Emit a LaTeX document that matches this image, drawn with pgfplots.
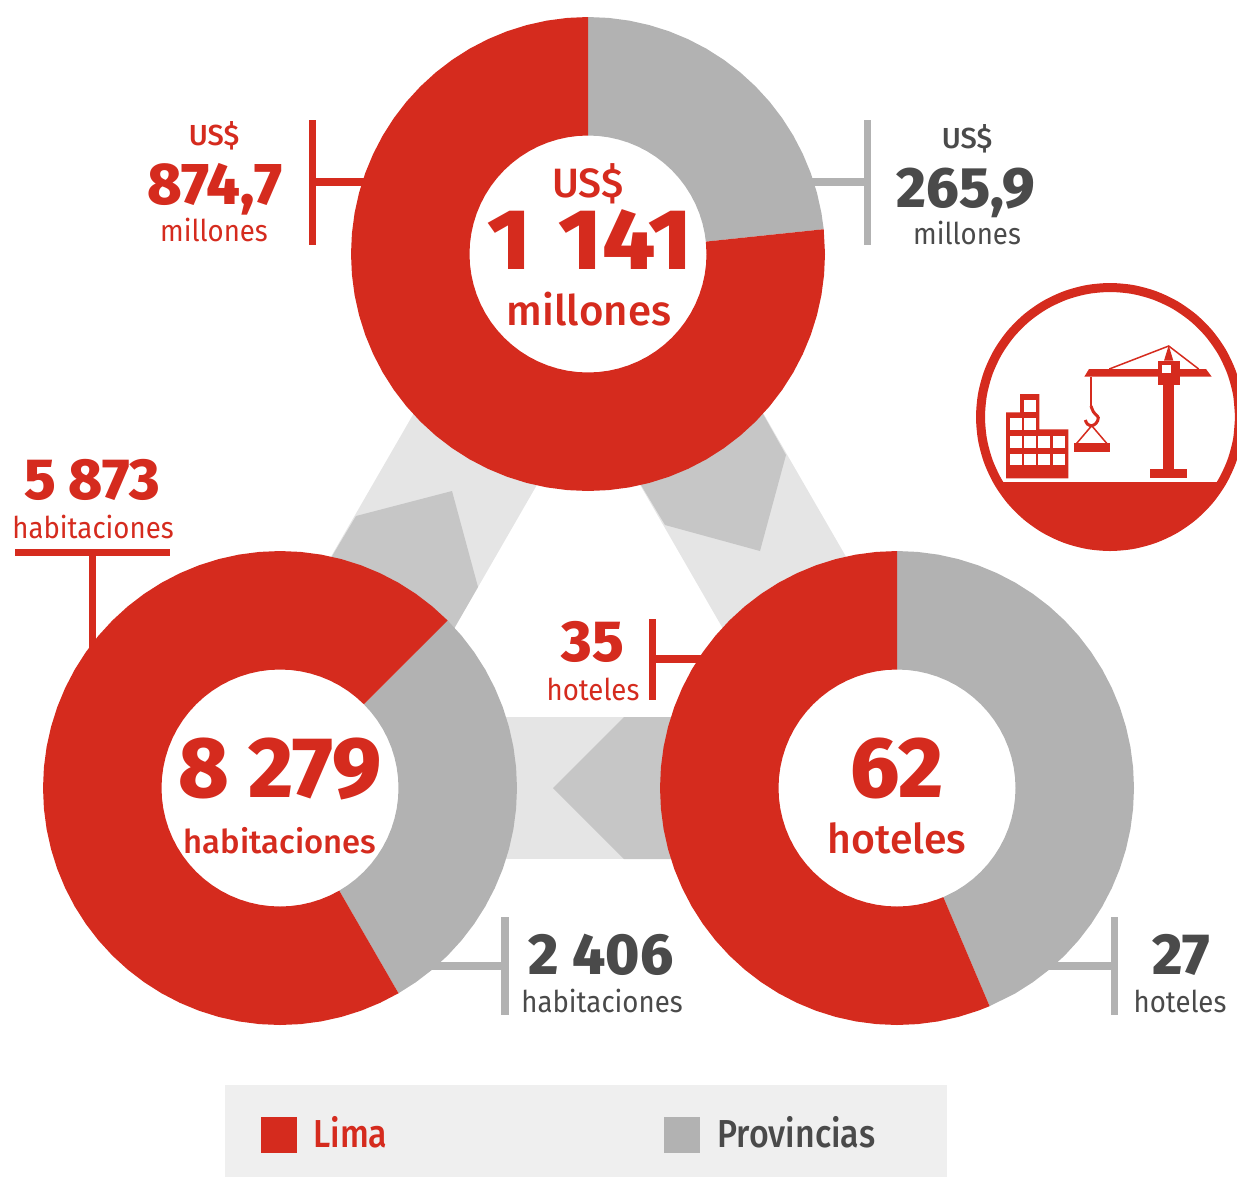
\documentclass[border=0pt]{standalone}
\usepackage{fontspec}
\setmainfont{Fira Sans}
\newfontfamily\heavy{Fira Sans ExtraBold}
\newfontfamily\heavywide[FakeStretch=1.08]{Fira Sans ExtraBold}
\newfontfamily\medium{Fira Sans Medium}
\newfontfamily\mediumnarrow[FakeStretch=0.87]{Fira Sans Medium}
\newfontfamily\reg[FakeStretch=0.92]{Fira Sans}
\usepackage{pgfplots}
\pgfplotsset{compat=1.18}
\definecolor{rojo}{HTML}{D52B1E}
\definecolor{gris}{HTML}{B2B2B2}
\definecolor{bandlight}{HTML}{E5E5E5}
\definecolor{banddark}{HTML}{C6C6C6}
\definecolor{oscuro}{HTML}{4A4A4A}
\definecolor{legendbg}{HTML}{EFEFEF}
% picture is in image pixels, 1 px = 0.5 pt
\newcommand\rect[5]{\addplot[draw=none,fill=#1] coordinates {(#2,#3)(#4,#3)(#4,#5)(#2,#5)};}
\newcommand\lbl[6]{\node[anchor=base,inner sep=0pt,text=#1,font=#2] at (axis cs:#3,#4) {#6};}
\begin{document}
\begin{tikzpicture}
\useasboundingbox (0,0) rectangle (618.5pt,589pt);
\begin{axis}[
  at={(0,0)}, anchor=south west,
  scale only axis, width=618.5pt, height=589pt,
  xmin=0, xmax=1237, ymin=0, ymax=1178, y dir=reverse,
  hide axis, clip=false, no markers,
]
% bands joining the donuts
\addplot[draw=none,fill=bandlight] coordinates {(433,380)(306,600)(436,660)(557,450)};
\addplot[draw=none,fill=banddark] coordinates {(356,516)(452,491)(478,587)(436,660)(306,600)};
\addplot[draw=none,fill=bandlight] coordinates {(744,380)(871,600)(741,660)(620,450)};
\addplot[draw=none,fill=banddark] coordinates {(744,380)(786,455)(760,551)(665,525)(620,450)};
\addplot[draw=none,fill=bandlight] coordinates {(480,717)(700,717)(700,859)(480,859)};
\addplot[draw=none,fill=banddark] coordinates {(624,717)(700,717)(700,859)(624,859)(553,788)};

% leaders
\addplot[rojo,line width=3.75pt] coordinates {(312.5,120)(312.5,245)};
\addplot[rojo,line width=3.75pt] coordinates {(312,182)(370,182)};
\addplot[gris,line width=3.75pt] coordinates {(867.5,120)(867.5,245)};
\addplot[gris,line width=3.75pt] coordinates {(810,182)(868,182)};
\addplot[rojo,line width=3.75pt] coordinates {(15,552.5)(170,552.5)};
\addplot[rojo,line width=3.75pt] coordinates {(92.5,552)(92.5,660)};
\addplot[gris,line width=3.75pt] coordinates {(505,917)(505,1015)};
\addplot[gris,line width=3.75pt] coordinates {(425,966)(505,966)};
\addplot[rojo,line width=3.75pt] coordinates {(652.5,619)(652.5,700)};
\addplot[rojo,line width=3.75pt] coordinates {(652,659)(710,659)};
\addplot[gris,line width=3.75pt] coordinates {(1114.5,917)(1114.5,1015)};
\addplot[gris,line width=3.75pt] coordinates {(1040,966)(1115,966)};

% inversion: US$ 874,7 Lima / 265,9 provincias
\addplot[draw=none,fill=gris,data cs=polar,shift={(axis direction cs:588,254)}] coordinates {
(-90,237)(-85,237)(-80,237)(-75,237)(-70,237)(-65,237)(-60,237)(-55,237)(-50,237)(-45,237)(-40,237)(-35,237)(-30,237)(-25,237)(-20,237)(-15,237)(-10,237)(-6,237)
(-6,118.5)(-10,118.5)(-15,118.5)(-20,118.5)(-25,118.5)(-30,118.5)(-35,118.5)(-40,118.5)(-45,118.5)(-50,118.5)(-55,118.5)(-60,118.5)(-65,118.5)(-70,118.5)(-75,118.5)(-80,118.5)(-85,118.5)(-90,118.5)};
\addplot[draw=none,fill=rojo,data cs=polar,shift={(axis direction cs:588,254)}] coordinates {
(-6,237)(0,237)(5,237)(10,237)(15,237)(20,237)(25,237)(30,237)(35,237)(40,237)(45,237)(50,237)(55,237)(60,237)(65,237)(70,237)(75,237)(80,237)(85,237)(90,237)(95,237)(100,237)(105,237)(110,237)(115,237)(120,237)(125,237)(130,237)(135,237)(140,237)(145,237)(150,237)(155,237)(160,237)(165,237)(170,237)(175,237)(180,237)(185,237)(190,237)(195,237)(200,237)(205,237)(210,237)(215,237)(220,237)(225,237)(230,237)(235,237)(240,237)(245,237)(250,237)(255,237)(260,237)(265,237)(270,237)
(270,118.5)(265,118.5)(260,118.5)(255,118.5)(250,118.5)(245,118.5)(240,118.5)(235,118.5)(230,118.5)(225,118.5)(220,118.5)(215,118.5)(210,118.5)(205,118.5)(200,118.5)(195,118.5)(190,118.5)(185,118.5)(180,118.5)(175,118.5)(170,118.5)(165,118.5)(160,118.5)(155,118.5)(150,118.5)(145,118.5)(140,118.5)(135,118.5)(130,118.5)(125,118.5)(120,118.5)(115,118.5)(110,118.5)(105,118.5)(100,118.5)(95,118.5)(90,118.5)(85,118.5)(80,118.5)(75,118.5)(70,118.5)(65,118.5)(60,118.5)(55,118.5)(50,118.5)(45,118.5)(40,118.5)(35,118.5)(30,118.5)(25,118.5)(20,118.5)(15,118.5)(10,118.5)(5,118.5)(0,118.5)(-6,118.5)};

% habitaciones: 5 873 Lima / 2 406 provincias
\addplot[draw=none,fill=gris,data cs=polar,shift={(axis direction cs:280,788)}] coordinates {
(-45,237)(-40,237)(-35,237)(-30,237)(-25,237)(-20,237)(-15,237)(-10,237)(-5,237)(0,237)(5,237)(10,237)(15,237)(20,237)(25,237)(30,237)(35,237)(40,237)(45,237)(50,237)(55,237)(60,237)
(60,118.5)(55,118.5)(50,118.5)(45,118.5)(40,118.5)(35,118.5)(30,118.5)(25,118.5)(20,118.5)(15,118.5)(10,118.5)(5,118.5)(0,118.5)(-5,118.5)(-10,118.5)(-15,118.5)(-20,118.5)(-25,118.5)(-30,118.5)(-35,118.5)(-40,118.5)(-45,118.5)};
\addplot[draw=none,fill=rojo,data cs=polar,shift={(axis direction cs:280,788)}] coordinates {
(60,237)(65,237)(70,237)(75,237)(80,237)(85,237)(90,237)(95,237)(100,237)(105,237)(110,237)(115,237)(120,237)(125,237)(130,237)(135,237)(140,237)(145,237)(150,237)(155,237)(160,237)(165,237)(170,237)(175,237)(180,237)(185,237)(190,237)(195,237)(200,237)(205,237)(210,237)(215,237)(220,237)(225,237)(230,237)(235,237)(240,237)(245,237)(250,237)(255,237)(260,237)(265,237)(270,237)(275,237)(280,237)(285,237)(290,237)(295,237)(300,237)(305,237)(310,237)(315,237)
(315,118.5)(310,118.5)(305,118.5)(300,118.5)(295,118.5)(290,118.5)(285,118.5)(280,118.5)(275,118.5)(270,118.5)(265,118.5)(260,118.5)(255,118.5)(250,118.5)(245,118.5)(240,118.5)(235,118.5)(230,118.5)(225,118.5)(220,118.5)(215,118.5)(210,118.5)(205,118.5)(200,118.5)(195,118.5)(190,118.5)(185,118.5)(180,118.5)(175,118.5)(170,118.5)(165,118.5)(160,118.5)(155,118.5)(150,118.5)(145,118.5)(140,118.5)(135,118.5)(130,118.5)(125,118.5)(120,118.5)(115,118.5)(110,118.5)(105,118.5)(100,118.5)(95,118.5)(90,118.5)(85,118.5)(80,118.5)(75,118.5)(70,118.5)(65,118.5)(60,118.5)};

% hoteles: 35 Lima / 27 provincias
\addplot[draw=none,fill=gris,data cs=polar,shift={(axis direction cs:897,788)}] coordinates {
(-90,237)(-85,237)(-80,237)(-75,237)(-70,237)(-65,237)(-60,237)(-55,237)(-50,237)(-45,237)(-40,237)(-35,237)(-30,237)(-25,237)(-20,237)(-15,237)(-10,237)(-5,237)(0,237)(5,237)(10,237)(15,237)(20,237)(25,237)(30,237)(35,237)(40,237)(45,237)(50,237)(55,237)(60,237)(67,237)
(67,118.5)(60,118.5)(55,118.5)(50,118.5)(45,118.5)(40,118.5)(35,118.5)(30,118.5)(25,118.5)(20,118.5)(15,118.5)(10,118.5)(5,118.5)(0,118.5)(-5,118.5)(-10,118.5)(-15,118.5)(-20,118.5)(-25,118.5)(-30,118.5)(-35,118.5)(-40,118.5)(-45,118.5)(-50,118.5)(-55,118.5)(-60,118.5)(-65,118.5)(-70,118.5)(-75,118.5)(-80,118.5)(-85,118.5)(-90,118.5)};
\addplot[draw=none,fill=rojo,data cs=polar,shift={(axis direction cs:897,788)}] coordinates {
(67,237)(70,237)(75,237)(80,237)(85,237)(90,237)(95,237)(100,237)(105,237)(110,237)(115,237)(120,237)(125,237)(130,237)(135,237)(140,237)(145,237)(150,237)(155,237)(160,237)(165,237)(170,237)(175,237)(180,237)(185,237)(190,237)(195,237)(200,237)(205,237)(210,237)(215,237)(220,237)(225,237)(230,237)(235,237)(240,237)(245,237)(250,237)(255,237)(260,237)(265,237)(270,237)
(270,118.5)(265,118.5)(260,118.5)(255,118.5)(250,118.5)(245,118.5)(240,118.5)(235,118.5)(230,118.5)(225,118.5)(220,118.5)(215,118.5)(210,118.5)(205,118.5)(200,118.5)(195,118.5)(190,118.5)(185,118.5)(180,118.5)(175,118.5)(170,118.5)(165,118.5)(160,118.5)(155,118.5)(150,118.5)(145,118.5)(140,118.5)(135,118.5)(130,118.5)(125,118.5)(120,118.5)(115,118.5)(110,118.5)(105,118.5)(100,118.5)(95,118.5)(90,118.5)(85,118.5)(80,118.5)(75,118.5)(70,118.5)(67,118.5)};

% icon ring and ground
\addplot[rojo,line width=4.5pt,smooth,data cs=polar,shift={(axis direction cs:1110,417)}] coordinates {
(0,129.5)(10,129.5)(20,129.5)(30,129.5)(40,129.5)(50,129.5)(60,129.5)(70,129.5)(80,129.5)(90,129.5)(100,129.5)(110,129.5)(120,129.5)(130,129.5)(140,129.5)(150,129.5)(160,129.5)(170,129.5)(180,129.5)(190,129.5)(200,129.5)(210,129.5)(220,129.5)(230,129.5)(240,129.5)(250,129.5)(260,129.5)(270,129.5)(280,129.5)(290,129.5)(300,129.5)(310,129.5)(320,129.5)(330,129.5)(340,129.5)(350,129.5)(360,129.5)};
\addplot[draw=none,fill=rojo,data cs=polar,shift={(axis direction cs:1110,417)}] coordinates {
(30,130)(40,130)(50,130)(60,130)(70,130)(80,130)(90,130)(100,130)(110,130)(120,130)(130,130)(140,130)(150,130)};
% building
\addplot[draw=none,fill=rojo] coordinates {(1020,394)(1039.3,394)(1039.3,429.3)(1068.3,429.3)(1068.3,478.3)(1006,478.3)(1006,412.3)(1020,412.3)};
\rect{white}{1024}{400}{1036}{411.7}
\rect{white}{1010}{418.3}{1021.7}{430}
\rect{white}{1024}{418.3}{1036}{430}
\rect{white}{1010}{436}{1021.7}{447.7}
\rect{white}{1024}{436}{1036}{447.7}
\rect{white}{1038.3}{436}{1050}{447.7}
\rect{white}{1052.7}{436}{1064.7}{447.7}
\rect{white}{1010}{454}{1021.7}{465.3}
\rect{white}{1024}{454}{1036}{465.3}
\rect{white}{1038.3}{454}{1050}{465.3}
\rect{white}{1052.7}{454}{1064.7}{465.3}
% crane
\rect{rojo}{1163.3}{385}{1174}{469}
\rect{rojo}{1150}{469}{1187.3}{478.3}
\addplot[draw=none,fill=rojo] coordinates {(1089,369)(1206,369)(1211.7,376.7)(1084.3,376.7)};
\rect{rojo}{1158}{360.7}{1180}{385}
\rect{white}{1162.3}{365}{1170.7}{373.3}
\addplot[draw=none,fill=rojo] coordinates {(1168.7,345.3)(1164,360.7)(1173.3,360.7)};
\addplot[rojo,line width=0.75pt] coordinates {(1109.3,369)(1168.7,346)(1198.7,369)};
\addplot[rojo,line width=1pt] coordinates {(1091,376.7)(1091,406)};
\addplot[rojo,line width=1.5pt,smooth] coordinates {(1091,406)(1093.3,411.7)(1098.3,417.7)(1096,423.3)(1091.7,425.7)(1087.3,424)(1085.3,420)};
\addplot[rojo,line width=0.75pt] coordinates {(1076.7,443.3)(1091.7,425.7)(1106.7,443.3)};
\rect{rojo}{1074}{442.7}{1110}{452}

% legend
\rect{legendbg}{225}{1085}{947}{1177}
\rect{rojo}{261}{1117}{297}{1153}
\rect{gris}{664}{1117}{700}{1153}
\node[anchor=base west,inner sep=0pt,text=rojo,font=\mediumnarrow\fontsize{19.5pt}{20pt}\selectfont] at (axis cs:313,1147) {Lima};
\node[anchor=base west,inner sep=0pt,text=oscuro,font=\mediumnarrow\fontsize{19.5pt}{20pt}\selectfont] at (axis cs:717,1147) {Provincias};

% labels
\lbl{rojo}{\medium\fontsize{14.5pt}{15pt}\selectfont}{214}{145}{}{US\$}
\lbl{rojo}{\heavy\fontsize{29.5pt}{30pt}\selectfont}{215}{204}{}{874,7}
\lbl{rojo}{\reg\fontsize{15pt}{15pt}\selectfont}{214}{241}{}{millones}
\lbl{oscuro}{\medium\fontsize{14.5pt}{15pt}\selectfont}{967}{148}{}{US\$}
\lbl{oscuro}{\heavy\fontsize{28.5pt}{30pt}\selectfont}{966}{207}{}{265,9}
\lbl{oscuro}{\reg\fontsize{15pt}{15pt}\selectfont}{967}{244}{}{millones}
\lbl{rojo}{\medium\fontsize{20.5pt}{21pt}\selectfont}{588}{197}{}{US\$}
\lbl{rojo}{\heavywide\fontsize{43pt}{43pt}\selectfont}{590}{269}{}{1\hspace{0.32em}141}
\lbl{rojo}{\medium\fontsize{21pt}{22pt}\selectfont}{589}{325}{}{millones}
\lbl{rojo}{\heavy\fontsize{29pt}{29pt}\selectfont}{92}{499}{}{5 873}
\lbl{rojo}{\reg\fontsize{15pt}{15pt}\selectfont}{93}{538}{}{habitaciones}
\lbl{rojo}{\heavy\fontsize{43pt}{43pt}\selectfont}{280}{797}{}{8 279}
\lbl{rojo}{\medium\fontsize{16.4pt}{18pt}\selectfont}{280}{853}{}{habitaciones}
\lbl{rojo}{\heavy\fontsize{43pt}{43pt}\selectfont}{897}{797}{}{62}
\lbl{rojo}{\medium\fontsize{20.5pt}{22pt}\selectfont}{897}{853}{}{hoteles}
\lbl{oscuro}{\heavy\fontsize{29pt}{29pt}\selectfont}{601}{974}{}{2 406}
\lbl{oscuro}{\reg\fontsize{15pt}{15pt}\selectfont}{602}{1012}{}{habitaciones}
\lbl{oscuro}{\heavy\fontsize{29pt}{29pt}\selectfont}{1181}{974}{}{27}
\lbl{oscuro}{\reg\fontsize{15pt}{15pt}\selectfont}{1180}{1012}{}{hoteles}
\lbl{rojo}{\heavy\fontsize{29pt}{29pt}\selectfont}{593}{661}{}{35}
\lbl{rojo}{\reg\fontsize{15pt}{15pt}\selectfont}{593}{700}{}{hoteles}
\end{axis}
\end{tikzpicture}
\end{document}
